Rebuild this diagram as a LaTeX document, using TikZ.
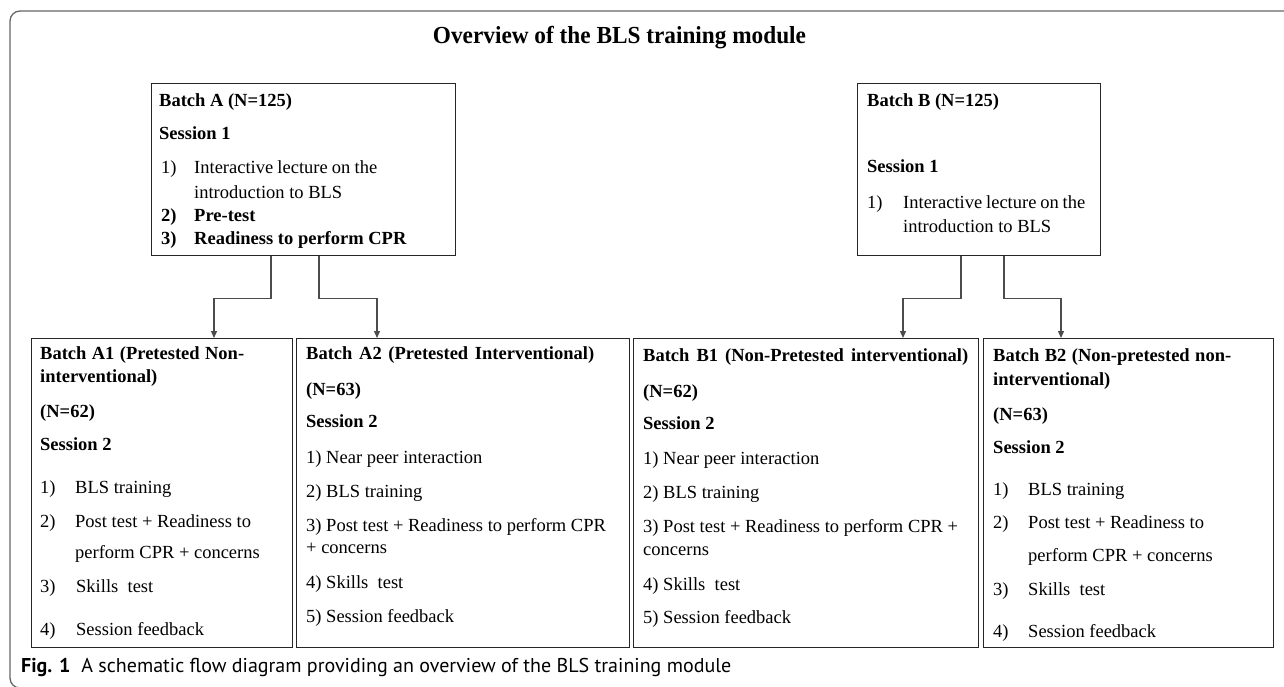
\documentclass[tikz,border=0pt]{standalone}
\usepackage{fontspec}
\setmainfont{Liberation Serif}
\newfontfamily\capfont{PT Sans}
\usetikzlibrary{calc,arrows.meta}
\newcommand{\fillto}[2]{\makebox[#1][s]{#2}}
\begin{document}
\begin{tikzpicture}[x=1pt,y=1pt,
  box/.style={draw=black!85, line width=1.3pt, anchor=north west, inner sep=0pt, rectangle},
  conn/.style={draw=black!70, line width=1.3pt, -{Triangle[length=7pt,width=6pt]}},
  txt/.style={anchor=base west, inner sep=0pt, font=\fontsize{18.5}{22}\selectfont},
  hd/.style={anchor=base west, inner sep=0pt, font=\fontsize{18.5}{22}\selectfont\bfseries},
]
\useasboundingbox (0,0) rectangle (1284,-687);
\draw[black!60, line width=1.3pt, rounded corners=10pt] (1300,-11) -- (10,-11) -- (10,-688) -- (1300,-688);

\node[font=\fontsize{24.5}{26}\selectfont\bfseries, anchor=base, inner sep=0pt] (title) at (619.5,-44) {\scalebox{0.95}[1]{Overview of the BLS training module}};

% boxes
\node[box, minimum width=304, minimum height=172] (A) at (151,-83) {};
\node[box, minimum width=243, minimum height=172] (B) at (857,-83) {};
\node[box, minimum width=261, minimum height=309] (A1) at (31,-338) {};
\node[box, minimum width=333, minimum height=309] (A2) at (296,-338) {};
\node[box, minimum width=345, minimum height=309] (B1) at (633,-338) {};
\node[box, minimum width=290, minimum height=309] (B2) at (983,-338) {};

% connectors
\draw[conn] ($(A.south west)+(120,0)$) -- ++(0,-42) -| ($(A1.north west)+(183,0)$);
\draw[conn] ($(A.south west)+(168,0)$) -- ++(0,-42) -| ($(A2.north west)+(81,0)$);
\draw[conn] ($(B.south west)+(104,0)$) -- ++(0,-42) -| ($(B1.north west)+(270,0)$);
\draw[conn] ($(B.south west)+(147,0)$) -- ++(0,-42) -| ($(B2.north west)+(78,0)$);

% Batch A
\node[hd] (a0) at (159,-107) {Batch A (N=125)};
\node[hd] (a1) at (159,-140) {Session 1};
\node[txt] (a2n) at (161,-174) {1)};
\node[txt] (a2) at (194,-174) {\fillto{183pt}{Interactive lecture on the}};
\node[txt] (a3) at (194,-198) {introduction to BLS};
\node[hd] (a4n) at (161,-221) {2)};
\node[hd] (a4) at (194,-221) {Pre-test};
\node[hd] (a5n) at (161,-244) {3)};
\node[hd] (a5) at (194,-244) {Readiness to perform CPR};

% Batch B
\node[hd] (b0) at (867,-107) {Batch B (N=125)};
\node[hd] (b1) at (867,-173) {Session 1};
\node[txt] (b2n) at (867,-208) {1)};
\node[txt] (b2) at (903,-208) {\fillto{182pt}{Interactive lecture on the}};
\node[txt] (b3) at (903,-232) {introduction to BLS};

% Batch A1
\node[hd] (c0) at (40,-359) {\fillto{204pt}{Batch A1 (Pretested Non-}};
\node[hd] (c1) at (40,-382) {interventional)};
\node[hd] (c2) at (40,-417) {(N=62)};
\node[hd] (c3) at (40,-450) {Session 2};
\node[txt] (c4n) at (40,-493) {1)};
\node[txt] (c4) at (75,-493) {BLS training};
\node[txt] (c5n) at (40,-527) {2)};
\node[txt] (c5) at (75,-527) {Post test + Readiness to};
\node[txt] (c6) at (75,-558) {perform CPR + concerns};
\node[txt] (c7n) at (40,-592) {3)};
\node[txt] (c7) at (76,-592) {Skills~ test};
\node[txt] (c8n) at (40,-635) {4)};
\node[txt] (c8) at (76,-635) {Session feedback};

% Batch A2
\node[hd] (d0) at (306,-359) {\fillto{288pt}{Batch A2 (Pretested Interventional)}};
\node[hd] (d1) at (306,-395) {(N=63)};
\node[hd] (d2) at (306,-427) {Session 2};
\node[txt] (d3) at (306,-463) {1) Near peer interaction};
\node[txt] (d4) at (306,-497) {2) BLS training};
\node[txt] (d5) at (306,-531) {3) Post test + Readiness to perform CPR};
\node[txt] (d6) at (306,-553) {+ concerns};
\node[txt] (d7) at (306,-588) {4) Skills~ test};
\node[txt] (d8) at (306,-622) {5) Session feedback};

% Batch B1
\node[hd] (e0) at (643,-361) {\fillto{325pt}{Batch B1 (Non-Pretested interventional)}};
\node[hd] (e1) at (643,-397) {(N=62)};
\node[hd] (e2) at (643,-429) {Session 2};
\node[txt] (e3) at (643,-464) {1) Near peer interaction};
\node[txt] (e4) at (643,-498) {2) BLS training};
\node[txt] (e5) at (643,-532) {3) Post test + Readiness to perform CPR +};
\node[txt] (e6) at (643,-555) {concerns};
\node[txt] (e7) at (643,-590) {4) Skills~ test};
\node[txt] (e8) at (643,-623) {5) Session feedback};

% Batch B2
\node[hd] (f0) at (993,-361) {\fillto{238pt}{Batch B2 (Non-pretested non-}};
\node[hd] (f1) at (993,-385) {interventional)};
\node[hd] (f2) at (993,-420) {(N=63)};
\node[hd] (f3) at (993,-453) {Session 2};
\node[txt] (f4n) at (993,-495) {1)};
\node[txt] (f4) at (1028,-495) {BLS training};
\node[txt] (f5n) at (993,-528) {2)};
\node[txt] (f5) at (1028,-528) {Post test + Readiness to};
\node[txt] (f6) at (1028,-561) {perform CPR + concerns};
\node[txt] (f7n) at (993,-595) {3)};
\node[txt] (f7) at (1028,-595) {Skills~ test};
\node[txt] (f8n) at (993,-637) {4)};
\node[txt] (f8) at (1028,-637) {Session feedback};

% caption
\node[anchor=base west, inner sep=0pt, font=\capfont\fontsize{20}{22}\selectfont] (cap) at (21,-672) {\textbf{Fig. 1}\hspace{11pt}A schematic flow diagram providing an overview of the BLS training module};
\end{tikzpicture}
\end{document}
